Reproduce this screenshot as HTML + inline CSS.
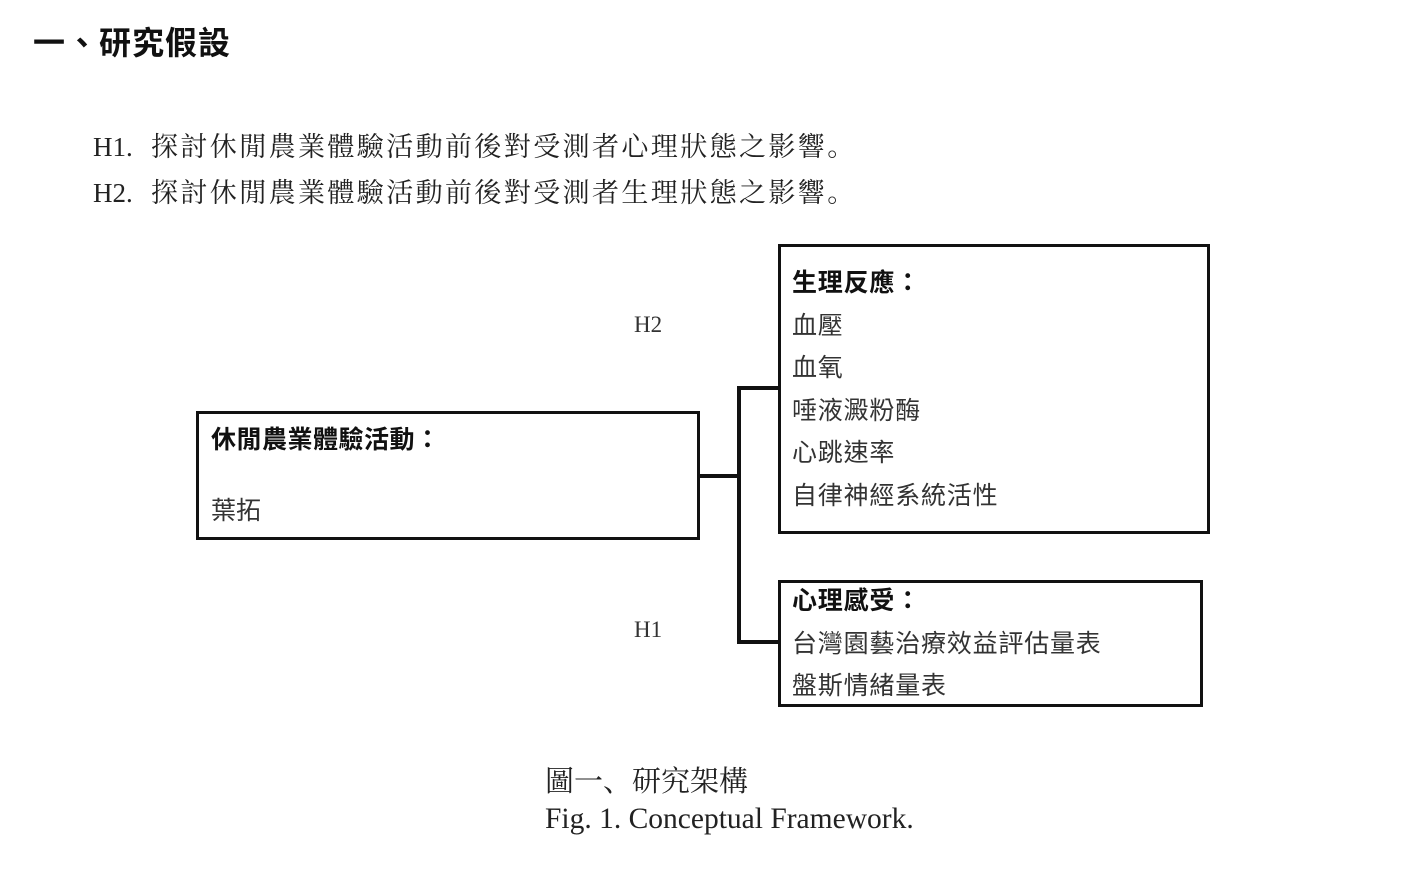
<!DOCTYPE html>
<html><head><meta charset="utf-8"><style>
body{margin:0;width:1406px;height:883px;background:#fff;position:relative;overflow:hidden;color:#111}
.a{position:absolute;white-space:nowrap}
.s{font-family:"Liberation Serif","Noto Serif CJK SC",serif}
.g{font-family:"Liberation Sans","Noto Sans CJK TC",sans-serif}
.box{position:absolute;border:3.5px solid #111;box-sizing:border-box}
.ln{position:absolute;background:#111}
</style></head><body>
<div class="a g" style="left:33px;top:21px;font-size:32px;font-weight:bold;line-height:44px;letter-spacing:1px">一、研究假設</div>
<div class="a s" style="left:93px;top:127px;font-size:27px;line-height:40px;color:#222">H1.</div>
<div class="a s" style="left:151px;top:127px;font-size:27px;line-height:40px;color:#222;letter-spacing:2.4px">探討休閒農業體驗活動前後對受測者心理狀態之影響。</div>
<div class="a s" style="left:93px;top:173px;font-size:27px;line-height:40px;color:#222">H2.</div>
<div class="a s" style="left:151px;top:173px;font-size:27px;line-height:40px;color:#222;letter-spacing:2.4px">探討休閒農業體驗活動前後對受測者生理狀態之影響。</div>

<div class="box" style="left:196px;top:411px;width:504px;height:129px"></div>
<div class="a g" style="left:211px;top:422px;font-size:25px;font-weight:bold;line-height:36px;letter-spacing:0.5px">休閒農業體驗活動：</div>
<div class="a g" style="left:211px;top:493px;font-size:25px;line-height:36px;color:#333">葉拓</div>

<div class="ln" style="left:699px;top:474px;width:42px;height:4px"></div>
<div class="ln" style="left:737px;top:386px;width:4px;height:258px"></div>
<div class="ln" style="left:737px;top:386px;width:43px;height:4px"></div>
<div class="ln" style="left:737px;top:640px;width:43px;height:4px"></div>

<div class="box" style="left:778px;top:244px;width:432px;height:290px"></div>
<div class="a g" style="left:792px;top:262px;font-size:25px;line-height:42.5px;color:#333;letter-spacing:0.8px">
<b style="color:#111">生理反應：</b><br>血壓<br>血氧<br>唾液澱粉酶<br>心跳速率<br>自律神經系統活性</div>

<div class="box" style="left:778px;top:580px;width:425px;height:127px"></div>
<div class="a g" style="left:792px;top:580px;font-size:25px;line-height:42.5px;color:#333;letter-spacing:0.8px">
<b style="color:#111">心理感受：</b><br>台灣園藝治療效益評估量表<br>盤斯情緒量表</div>

<div class="a s" style="left:634px;top:312px;font-size:23px;color:#333">H2</div>
<div class="a s" style="left:634px;top:617px;font-size:23px;color:#333">H1</div>

<div class="a s" style="left:545px;top:763px;font-size:29px;line-height:38px;color:#222">圖一、研究架構</div>
<div class="a s" style="left:545px;top:800px;font-size:29.5px;line-height:38px;color:#222">Fig. 1. Conceptual Framework.</div>
</body></html>
